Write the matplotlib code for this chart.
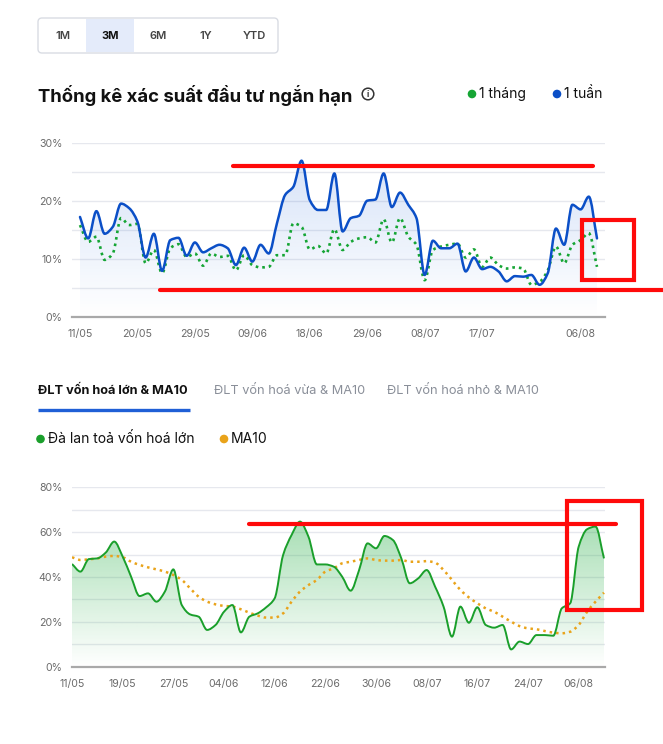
import numpy as np
import matplotlib
matplotlib.use("Agg")
import matplotlib.pyplot as plt
from matplotlib.path import Path
from matplotlib.patches import PathPatch, FancyBboxPatch, Rectangle, Circle
from matplotlib.colors import to_rgb

plt.rcParams['font.family'] = ['Inter', 'DejaVu Sans']

# Thống kê xác suất đầu tư ngắn hạn (%)
tuan_1 = [17.2, 13.5, 18.2, 14.3, 15.5, 19.5, 18.7, 16.4, 10.2, 14.3, 7.9, 13.2, 13.6, 10.5, 12.8, 11.1,
          11.8, 12.4, 11.8, 8.9, 11.9, 9.5, 12.4, 10.9, 16.1, 21.0, 22.4, 26.9, 20.1, 18.4, 18.4, 24.7,
          14.7, 17.0, 17.4, 20.0, 20.2, 24.7, 18.9, 21.4, 19.3, 17.0, 7.2, 13.1, 11.8, 11.8, 12.6, 7.8,
          10.2, 8.2, 8.6, 7.8, 6.1, 7.0, 6.9, 7.2, 5.5, 7.5, 15.2, 12.4, 19.3, 18.5, 20.7, 13.5]
thang_1 = [15.8, 12.9, 13.8, 9.8, 10.9, 17.0, 15.8, 16.0, 9.2, 11.5, 7.5, 11.8, 12.5, 10.3, 10.9, 8.8,
           10.9, 10.3, 10.5, 8.0, 10.6, 8.9, 8.5, 8.6, 10.6, 10.6, 16.1, 15.5, 11.6, 12.2, 10.9, 15.1,
           11.5, 12.9, 13.5, 13.7, 12.8, 16.8, 12.8, 17.0, 13.8, 12.4, 6.3, 11.5, 12.1, 12.4, 12.6, 10.2,
           11.6, 8.6, 10.2, 8.9, 8.3, 8.5, 8.3, 5.5, 6.0, 8.0, 12.1, 9.2, 12.4, 13.2, 14.4, 8.6]
top_tick_idx = [0, 7, 14, 21, 28, 35, 42, 49, 61]
top_tick_lbl = ['11/05', '20/05', '29/05', '09/06', '18/06', '29/06', '08/07', '17/07', '06/08']

# Độ lan toả vốn hoá lớn & MA10 (%)
dlt_lon = [45.8, 42.4, 48.0, 48.3, 50.9, 55.8, 49.1, 40.1, 31.5, 32.7, 29.0, 33.5, 43.4, 27.5, 23.3, 22.3,
           16.4, 18.6, 24.5, 27.5, 15.3, 22.3, 23.8, 26.5, 30.5, 49.8, 58.7, 64.7, 58.0, 45.6, 45.6, 44.6,
           40.1, 33.9, 43.1, 55.0, 52.8, 58.3, 56.5, 48.3, 37.2, 39.4, 43.1, 35.7, 26.8, 13.4, 26.8, 19.6,
           26.5, 18.6, 17.4, 18.6, 7.7, 11.2, 10.1, 14.1, 14.1, 13.8, 26.0, 28.3, 53.5, 61.3, 62.5, 48.3]
ma10 = [48.8, 47.6, 47.9, 48.3, 49.1, 49.4, 48.8, 46.8, 45.4, 44.3, 43.4, 42.4, 40.9, 38.7, 34.9, 31.2,
        29.0, 27.8, 27.1, 26.8, 25.6, 24.1, 22.8, 21.9, 21.9, 23.8, 29.0, 33.5, 36.4, 38.7, 42.4, 43.9,
        46.1, 46.8, 47.6, 48.3, 47.6, 47.3, 47.3, 47.6, 46.8, 46.8, 47.1, 46.4, 43.1, 38.7, 34.2, 30.9,
        28.3, 26.0, 24.5, 22.3, 20.1, 18.1, 17.1, 16.7, 15.9, 15.2, 14.9, 15.6, 18.6, 24.5, 29.0, 33.0]
bot_tick_idx = [0, 6, 12, 18, 24, 30, 36, 42, 48, 54, 60]
bot_tick_lbl = ['11/05', '19/05', '27/05', '04/06', '12/06', '22/06', '30/06', '08/07', '16/07', '24/07', '06/08']

BLUE = '#0b4fc7'
GREEN_TOP = '#15a534'
GREEN = '#1a9f2b'
ORANGE = '#e9a31a'
RED = '#ff0a0a'


def smooth_path(y, closed=False):
    # monotone cubic drawn as bezier segments
    x = np.arange(len(y), dtype=float)
    y = np.asarray(y, dtype=float)
    d = np.diff(y)
    m = np.zeros_like(y)
    m[0], m[-1] = d[0], d[-1]
    for k in range(1, len(y) - 1):
        if d[k - 1] * d[k] > 0:
            m[k] = 2 / (1 / d[k - 1] + 1 / d[k])
    verts = [(x[0], y[0])]
    codes = [Path.MOVETO]
    for k in range(len(y) - 1):
        verts += [(x[k] + 1 / 3, y[k] + m[k] / 3), (x[k + 1] - 1 / 3, y[k + 1] - m[k + 1] / 3), (x[k + 1], y[k + 1])]
        codes += [Path.CURVE4] * 3
    if closed:
        verts += [(x[-1], 0), (x[0], 0), (x[0], y[0])]
        codes += [Path.LINETO, Path.LINETO, Path.CLOSEPOLY]
    return Path(verts, codes)


def gradient_fill(ax, y, color, a_top, ymax):
    patch = PathPatch(smooth_path(y, closed=True), facecolor='none', edgecolor='none')
    ax.add_patch(patch)
    rgb = to_rgb(color)
    alpha = np.linspace(0.0, a_top, 256)
    img = np.zeros((256, 1, 4))
    img[:, 0, :3] = rgb
    img[:, 0, 3] = alpha
    im = ax.imshow(img, extent=[0, len(y) - 1, 0, ymax], origin='lower', aspect='auto', zorder=1)
    im.set_clip_path(patch)


def style_axes(ax, ymax, ystep, lstep, idx, lbl):
    ticks = np.arange(0, ymax + 0.1, ystep)
    ax.set_yticks(ticks)
    ax.set_yticklabels([f'{int(t)}%' if t % lstep == 0 else '' for t in ticks])
    ax.set_xticks(idx)
    ax.set_xticklabels(lbl)
    ax.grid(axis='y', color='#e6e8ee', lw=1)
    ax.set_axisbelow(True)
    for s in ['top', 'right', 'left']:
        ax.spines[s].set_visible(False)
    ax.spines['bottom'].set_color('#a9a9a9')
    ax.spines['bottom'].set_linewidth(1.6)
    ax.tick_params(length=0, labelsize=7.6, labelcolor='#6b6b6b')
    ax.tick_params(axis='x', pad=9)
    ax.tick_params(axis='y', pad=7)


fig = plt.figure(figsize=(6.63, 7.44), dpi=100)

# --- chart 1
ax1 = fig.add_axes([72 / 663, 427.3 / 744, 533 / 663, 174 / 744])
gradient_fill(ax1, tuan_1, '#2f6fdc', 0.2, 28)
ax1.add_patch(PathPatch(smooth_path(thang_1), facecolor='none', edgecolor=GREEN_TOP, lw=1.9,
                        linestyle=(0, (1, 1.5)), zorder=3))
ax1.add_patch(PathPatch(smooth_path(tuan_1), facecolor='none', edgecolor=BLUE, lw=1.8, zorder=4,
                        capstyle='round', joinstyle='round'))
ax1.set_xlim(-0.975, 63.975)
ax1.set_ylim(0, 30)
style_axes(ax1, 30, 5, 10, top_tick_idx, top_tick_lbl)

# --- chart 2
ax2 = fig.add_axes([72 / 663, 77.3 / 744, 533 / 663, 179.4 / 744])
gradient_fill(ax2, dlt_lon, '#2bb04a', 0.42, 66)
ax2.add_patch(PathPatch(smooth_path(ma10), facecolor='none', edgecolor=ORANGE, lw=1.8,
                        linestyle=(0, (1, 1.6)), zorder=3))
ax2.add_patch(PathPatch(smooth_path(dlt_lon), facecolor='none', edgecolor=GREEN, lw=1.4, zorder=4,
                        joinstyle='round'))
ax2.set_xlim(0, 63.12)
ax2.set_ylim(0, 80)
style_axes(ax2, 80, 10, 20, bot_tick_idx, bot_tick_lbl)

# --- page overlay (pixel coords)
ov = fig.add_axes([0, 0, 1, 1])
ov.set_xlim(0, 663)
ov.set_ylim(744, 0)
ov.axis('off')
ov.patch.set_alpha(0)
ov.set_zorder(10)

ov.add_patch(FancyBboxPatch((38, 18), 240, 35, boxstyle='round,pad=0,rounding_size=4',
                            facecolor='white', edgecolor='#d9dce3', lw=1))
ov.add_patch(Rectangle((86, 18.6), 48, 33.8, facecolor='#e4ebfa', edgecolor='none'))
for xc, t in zip([63, 110, 158, 206, 254], ['1M', '3M', '6M', '1Y', 'YTD']):
    ov.text(xc, 36, t, ha='center', va='center', fontsize=8,
            color='#111111' if t == '3M' else '#444444', fontweight='bold' if t == '3M' else 'semibold')

ov.text(38, 95, 'Thống kê xác suất đầu tư ngắn hạn', ha='left', va='center', fontsize=13.3,
        fontweight='bold', color='#111111')
ov.add_patch(Circle((368, 94), 5.8, facecolor='none', edgecolor='#333333', lw=1.1))
ov.text(368, 94.5, 'i', ha='center', va='center', fontsize=6, color='#333333', fontweight='bold')

ov.add_patch(Circle((472, 94), 3.6, color=GREEN_TOP))
ov.text(479, 94, '1 tháng', ha='left', va='center', fontsize=10, color='#111111')
ov.add_patch(Circle((557, 94), 3.6, color=BLUE))
ov.text(564, 94, '1 tuần', ha='left', va='center', fontsize=10, color='#111111')

ov.text(38, 391, 'ĐLT vốn hoá lớn & MA10', ha='left', va='center', fontsize=9.2,
        fontweight='bold', color='#111111')
ov.text(214, 391, 'ĐLT vốn hoá vừa & MA10', ha='left', va='center', fontsize=9.2, color='#8a8f99')
ov.text(387, 391, 'ĐLT vốn hoá nhỏ & MA10', ha='left', va='center', fontsize=9.2, color='#8a8f99')
ov.plot([38, 190], [409.5, 409.5], color='#1f5fd6', lw=2.4, solid_capstyle='butt')

ov.add_patch(Circle((40.5, 439), 3.6, color=GREEN))
ov.text(48, 439, 'Đà lan toả vốn hoá lớn', ha='left', va='center', fontsize=10, color='#111111')
ov.add_patch(Circle((224, 439), 3.6, color=ORANGE))
ov.text(231, 439, 'MA10', ha='left', va='center', fontsize=10, color='#111111')

# red markup
ov.plot([233, 593], [166, 166], color=RED, lw=3, solid_capstyle='round')
ov.plot([160, 663], [290, 290], color=RED, lw=3, solid_capstyle='round')
ov.add_patch(Rectangle((582, 220), 52, 60, facecolor='none', edgecolor=RED, lw=3))
ov.plot([249, 616], [524, 524], color=RED, lw=3, solid_capstyle='round')
ov.add_patch(Rectangle((567, 501), 75, 109, facecolor='none', edgecolor=RED, lw=3))

fig.savefig('out.png', dpi=100, facecolor='white')
